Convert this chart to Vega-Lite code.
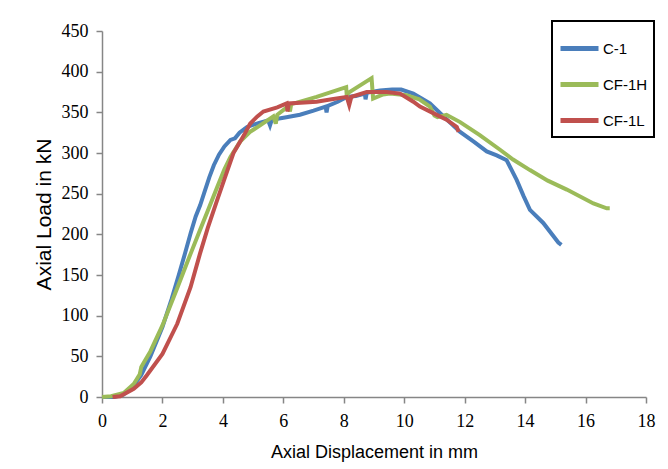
{
  "$schema": "https://vega.github.io/schema/vega-lite/v6.json",
  "width": 544,
  "height": 366,
  "autosize": {"type": "none"},
  "padding": {"left": 102, "top": 31, "right": 22, "bottom": 72},
  "background": "white",
  "config": {
    "view": {"stroke": null},
    "legend": {"strokeWidth": 2},
    "axis": {
      "grid": false,
      "domainColor": "#868686",
      "tickColor": "#868686",
      "domainWidth": 1.5,
      "tickWidth": 1.5,
      "tickSize": 6,
      "labelFont": "Liberation Serif",
      "labelFontSize": 18,
      "labelColor": "#000000",
      "titleFont": "Liberation Sans",
      "titleFontWeight": "normal",
      "titleColor": "#000000"
    }
  },
  "datasets": {
    "c1": [
      {"x": 0, "y": 0}, {"x": 0.4, "y": 0}, {"x": 0.7, "y": 3}, {"x": 1.0, "y": 12}, {"x": 1.3, "y": 27},
      {"x": 1.6, "y": 50}, {"x": 2.0, "y": 86}, {"x": 2.3, "y": 120}, {"x": 2.54, "y": 150}, {"x": 2.75, "y": 177},
      {"x": 2.93, "y": 201}, {"x": 3.1, "y": 222}, {"x": 3.25, "y": 236}, {"x": 3.4, "y": 253}, {"x": 3.55, "y": 270},
      {"x": 3.7, "y": 285}, {"x": 3.87, "y": 298}, {"x": 4.05, "y": 308}, {"x": 4.25, "y": 316}, {"x": 4.4, "y": 318},
      {"x": 4.55, "y": 325}, {"x": 4.8, "y": 332}, {"x": 5.2, "y": 337}, {"x": 5.5, "y": 340}, {"x": 5.56, "y": 334},
      {"x": 5.62, "y": 341}, {"x": 6.1, "y": 344}, {"x": 6.55, "y": 347}, {"x": 7.0, "y": 352}, {"x": 7.4, "y": 357},
      {"x": 7.43, "y": 350}, {"x": 7.47, "y": 358}, {"x": 7.8, "y": 363}, {"x": 8.1, "y": 369}, {"x": 8.4, "y": 370},
      {"x": 8.7, "y": 373}, {"x": 8.72, "y": 366}, {"x": 8.76, "y": 374}, {"x": 9.2, "y": 377}, {"x": 9.6, "y": 378},
      {"x": 9.9, "y": 378}, {"x": 10.3, "y": 373}, {"x": 10.85, "y": 361}, {"x": 11.13, "y": 351}, {"x": 11.5, "y": 338},
      {"x": 11.85, "y": 326}, {"x": 12.3, "y": 314}, {"x": 12.73, "y": 302}, {"x": 13.06, "y": 297}, {"x": 13.39, "y": 291},
      {"x": 13.72, "y": 267}, {"x": 13.95, "y": 247}, {"x": 14.16, "y": 230}, {"x": 14.6, "y": 214}, {"x": 15.1, "y": 190},
      {"x": 15.2, "y": 187}
    ],
    "cf1h": [
      {"x": 0, "y": 0}, {"x": 0.3, "y": 1}, {"x": 0.72, "y": 5}, {"x": 1.05, "y": 16}, {"x": 1.25, "y": 28},
      {"x": 1.3, "y": 37}, {"x": 1.38, "y": 42}, {"x": 1.6, "y": 56}, {"x": 2.0, "y": 88}, {"x": 2.5, "y": 135},
      {"x": 2.93, "y": 176}, {"x": 3.24, "y": 205}, {"x": 3.5, "y": 229}, {"x": 3.81, "y": 258}, {"x": 4.05, "y": 280},
      {"x": 4.25, "y": 295}, {"x": 4.57, "y": 314}, {"x": 4.9, "y": 326}, {"x": 5.23, "y": 334}, {"x": 5.67, "y": 345},
      {"x": 5.75, "y": 336}, {"x": 5.8, "y": 347}, {"x": 6.18, "y": 358}, {"x": 6.22, "y": 351}, {"x": 6.26, "y": 360},
      {"x": 7.1, "y": 369}, {"x": 8.08, "y": 381}, {"x": 8.1, "y": 370}, {"x": 8.15, "y": 374}, {"x": 8.92, "y": 392},
      {"x": 8.97, "y": 367}, {"x": 9.3, "y": 372}, {"x": 9.53, "y": 373}, {"x": 10.08, "y": 371}, {"x": 10.5, "y": 366},
      {"x": 10.85, "y": 357}, {"x": 11.0, "y": 346}, {"x": 11.1, "y": 344}, {"x": 11.4, "y": 347}, {"x": 11.85, "y": 338},
      {"x": 12.5, "y": 322}, {"x": 13.17, "y": 304}, {"x": 13.6, "y": 292}, {"x": 14.16, "y": 279}, {"x": 14.75, "y": 266},
      {"x": 15.38, "y": 255}, {"x": 16.26, "y": 238}, {"x": 16.7, "y": 232}, {"x": 16.8, "y": 232}
    ],
    "cf1l": [
      {"x": 0.35, "y": 0}, {"x": 0.6, "y": 1}, {"x": 1.05, "y": 10}, {"x": 1.3, "y": 18}, {"x": 1.49, "y": 27},
      {"x": 2.0, "y": 53}, {"x": 2.49, "y": 90}, {"x": 2.93, "y": 135}, {"x": 3.24, "y": 176}, {"x": 3.5, "y": 208},
      {"x": 3.81, "y": 242}, {"x": 4.05, "y": 268}, {"x": 4.35, "y": 300}, {"x": 4.7, "y": 322}, {"x": 4.9, "y": 336},
      {"x": 5.14, "y": 345}, {"x": 5.34, "y": 351}, {"x": 5.8, "y": 356}, {"x": 6.11, "y": 361}, {"x": 6.14, "y": 351},
      {"x": 6.18, "y": 361}, {"x": 7.1, "y": 363}, {"x": 7.6, "y": 366}, {"x": 8.1, "y": 369}, {"x": 8.18, "y": 359},
      {"x": 8.25, "y": 369}, {"x": 8.76, "y": 375}, {"x": 9.42, "y": 375}, {"x": 9.86, "y": 373}, {"x": 10.3, "y": 363},
      {"x": 10.52, "y": 357}, {"x": 10.96, "y": 349}, {"x": 11.4, "y": 341}, {"x": 11.74, "y": 332}, {"x": 11.8, "y": 326}
    ]
  },
  "layer": [
    {
      "data": {"name": "c1"},
      "transform": [{"calculate": "'C-1'", "as": "series"}],
      "mark": {"type": "line", "strokeWidth": 4},
      "encoding": {
        "x": {"field": "x", "type": "quantitative"},
        "y": {"field": "y", "type": "quantitative"},
        "color": {"field": "series", "type": "nominal"}
      }
    },
    {
      "data": {"name": "cf1h"},
      "transform": [{"calculate": "'CF-1H'", "as": "series"}],
      "mark": {"type": "line", "strokeWidth": 4},
      "encoding": {
        "x": {"field": "x", "type": "quantitative"},
        "y": {"field": "y", "type": "quantitative"},
        "color": {"field": "series", "type": "nominal"}
      }
    },
    {
      "data": {"name": "cf1l"},
      "transform": [{"calculate": "'CF-1L'", "as": "series"}],
      "mark": {"type": "line", "strokeWidth": 4},
      "encoding": {
        "x": {
          "field": "x", "type": "quantitative",
          "scale": {"domain": [0, 18], "nice": false},
          "axis": {"values": [0, 2, 4, 6, 8, 10, 12, 14, 16, 18], "title": "Axial Displacement in mm", "titleFontSize": 18, "labelPadding": 9, "titlePadding": 13, "labelFlush": false}
        },
        "y": {
          "field": "y", "type": "quantitative",
          "scale": {"domain": [0, 450], "nice": false},
          "axis": {"values": [0, 50, 100, 150, 200, 250, 300, 350, 400, 450], "title": "Axial Load in kN", "titleFontSize": 21, "labelPadding": 8, "titlePadding": 7}
        },
        "color": {
          "field": "series", "type": "nominal",
          "scale": {"domain": ["C-1", "CF-1H", "CF-1L"], "range": ["#4A7EBB", "#9BBB59", "#C0504D"]},
          "legend": {
            "title": null, "orient": "none", "legendX": 450, "legendY": -10,
            "symbolType": "stroke", "symbolSize": 1444, "symbolStrokeWidth": 5,
            "strokeColor": "#000000", "fillColor": "#ffffff", "padding": 6,
            "labelFont": "Liberation Sans", "labelFontSize": 15, "labelColor": "#000000",
            "labelOffset": 2, "rowPadding": 4, "labelLimit": 60
          }
        }
      }
    }
  ]
}
